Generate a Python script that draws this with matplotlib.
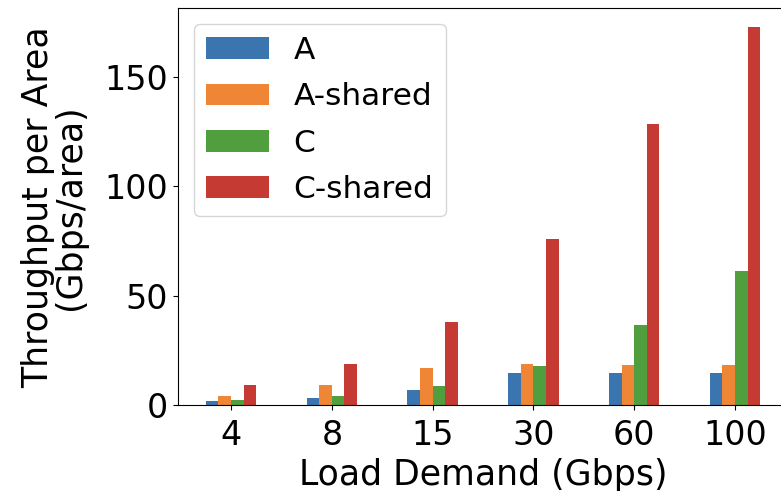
import numpy as np
import matplotlib
matplotlib.use('Agg')
import matplotlib.pyplot as plt

# Throughput per area for each load demand
loads = ['4', '8', '15', '30', '60', '100']
series_names = ['A', 'A-shared', 'C', 'C-shared']
a_vals = [1.8, 3.5, 7.2, 14.6, 14.6, 14.6]
a_shared_vals = [4.4, 9.1, 17.0, 18.7, 18.4, 18.4]
c_vals = [2.3, 4.4, 9.0, 18.1, 36.7, 61.5]
c_shared_vals = [9.3, 18.9, 37.9, 76.1, 128.4, 172.6]

colors = ['#3b75af', '#ef8636', '#519e3e', '#c53a32']

fig = plt.figure(figsize=(7.81, 4.91), dpi=100)
ax = fig.add_axes([0.228, 0.1745, 0.781, 0.809])

x = np.arange(len(loads))
w = 0.125
for i, (name, vals) in enumerate(zip(series_names, [a_vals, a_shared_vals, c_vals, c_shared_vals])):
    ax.bar(x + (i - 1.5) * w, vals, w, label=name, color=colors[i])

ax.set_xticks(x)
ax.set_xticklabels(loads)
ax.set_yticks([0, 50, 100, 150])
ax.tick_params(labelsize=24)
ax.tick_params(axis='x', pad=6)
ax.set_xlabel('Load Demand (Gbps)', fontsize=25, labelpad=5)
ax.set_ylabel('Throughput per Area\n(Gbps/area)', fontsize=25, linespacing=0.9, labelpad=13)
ax.legend(loc='upper left', fontsize=22.5, labelspacing=0.55)

plt.savefig('out.png', dpi=100)
